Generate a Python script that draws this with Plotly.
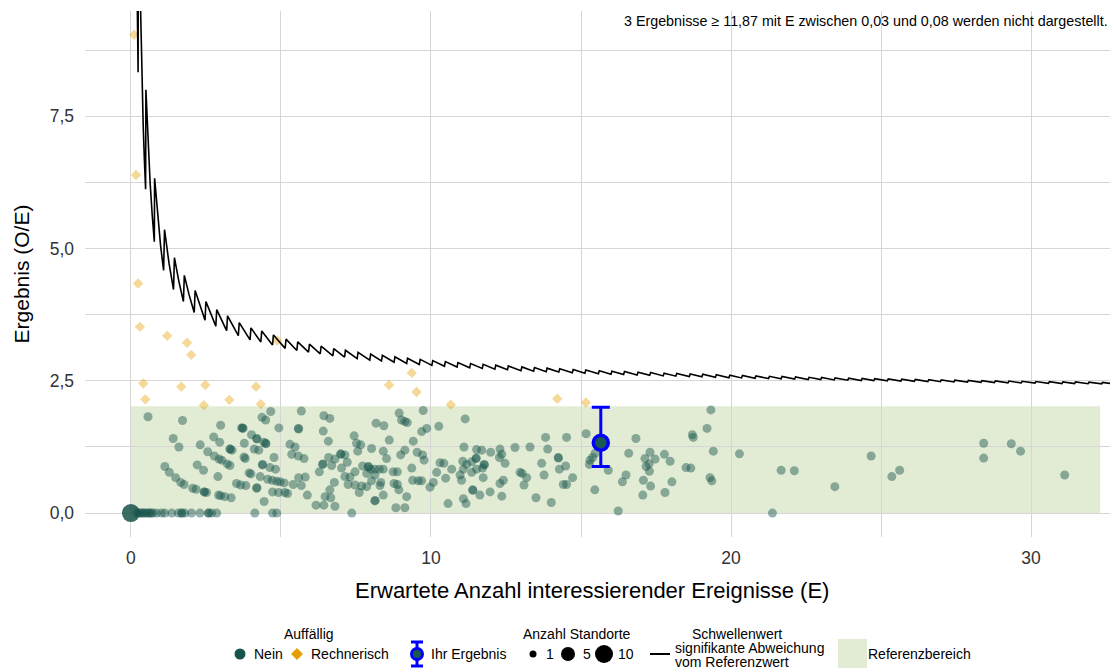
import plotly.graph_objects as go

# Auffällig: Nein (1 Standort)
e_nein = [
    0.57, 1.72, 1.41, 1.60, 1.13, 1.28, 1.49, 1.66, 1.77, 2.06, 2.17, 2.44, 2.52, 2.92, 2.99, 3.13, 3.34,
    2.21, 2.42, 2.31, 2.56, 2.78, 2.94, 3.03, 3.21, 3.30, 2.76, 2.96, 2.99, 3.30, 3.37, 3.69, 3.74, 3.78,
    3.77, 3.81, 4.02, 4.11, 4.19, 4.26, 4.43, 4.49, 4.38, 4.63, 4.82, 4.77, 3.94, 4.00, 4.31, 4.56, 4.71,
    4.86, 4.97, 5.11, 4.19, 4.44, 4.72, 4.92, 5.13, 5.22, 3.52, 3.66, 3.83, 2.90, 5.41, 5.68, 5.59, 5.81,
    5.88, 6.17, 6.28, 5.58, 5.30, 5.47, 5.36, 5.58, 5.77, 4.93, 4.66, 4.37, 4.49, 5.68,
    3.31, 4.20, 4.50, 4.39, 5.59, 4.20, 2.45, 3.72,
    6.43, 6.63, 6.41, 6.58, 6.59, 6.80, 6.39, 6.40, 6.69, 6.99, 7.00, 7.13, 7.02, 7.21, 7.13, 7.30, 7.47,
    7.44, 7.52, 7.66, 7.56, 8.02, 8.17, 8.43, 8.61, 8.41, 8.52, 7.72, 7.91, 7.92, 7.99, 8.13, 8.28, 8.41,
    7.86, 8.13, 8.02, 8.33, 7.24, 7.47, 7.69, 7.86, 6.78, 6.63, 6.47, 6.66, 6.43, 6.80, 7.61, 7.36, 8.13,
    8.14, 8.30, 8.41, 8.74, 8.88, 8.77, 8.88, 8.93, 9.19, 8.83, 9.13, 8.94, 9.02, 9.13, 9.21, 8.99, 9.13,
    9.41, 9.36, 9.39, 9.58, 9.69, 9.54, 9.72, 9.77, 9.69, 9.86, 9.74, 10.26, 11.14, 10.08, 9.97, 10.19,
    10.30, 10.43, 10.49, 10.69, 10.57, 10.97, 11.02, 11.06, 11.08, 11.19, 11.10, 11.36, 11.50, 11.51,
    11.69, 11.52, 11.77, 11.78, 11.72, 11.52, 11.36, 11.74, 11.39, 11.40, 11.63, 11.08, 11.17, 11.97,
    12.36, 12.30, 12.41, 11.99, 12.30, 12.36, 12.28, 12.47, 12.80, 12.97, 13.04, 13.19, 13.10, 13.30,
    13.50, 13.69, 13.77, 13.82, 13.89, 14.01, 14.24, 14.25, 14.28, 14.49, 14.41, 14.52, 14.52, 14.72,
    15.17, 15.30, 15.39, 15.28, 15.47, 15.46, 15.91, 16.24, 16.50, 16.38, 16.59, 16.83, 17.13, 17.17,
    17.27, 17.28, 17.30, 17.47, 17.08, 17.32, 17.06, 17.78, 17.97, 18.03, 17.80, 18.50, 18.66, 18.71,
    18.74, 19.20, 19.33, 19.41, 19.30, 19.36,
    20.28, 21.67, 22.11, 23.46, 21.38, 24.67, 25.36, 25.62, 28.42, 28.42, 29.34, 29.65, 31.12,
    0.19, 0.25, 0.30, 0.35, 0.41, 0.45, 0.52, 0.58, 0.63, 0.68, 0.74, 0.86, 1.02, 1.13, 1.36, 1.58,
    1.69, 1.70, 1.80, 2.02, 2.30, 2.58, 2.59, 2.69, 2.86, 4.13, 4.72, 4.86,
]
oe_nein = [
    1.82, 1.75, 1.41, 1.25, 0.88, 0.77, 0.67, 0.58, 0.54, 0.47, 0.45, 0.40, 0.39, 0.34, 0.33, 0.31, 0.29,
    0.91, 0.81, 1.29, 1.16, 1.08, 1.02, 1.00, 0.93, 0.90, 1.44, 1.34, 1.66, 1.21, 1.19, 1.61, 1.60, 1.32,
    1.06, 1.03, 1.48, 1.21, 1.41, 1.19, 1.34, 1.32, 0.91, 0.86, 0.83, 1.05, 0.76, 0.74, 0.69, 0.64, 0.62,
    0.60, 0.59, 0.57, 0.47, 0.22, 0.40, 0.39, 0.39, 0.37, 0.56, 0.53, 0.52, 0.69, 0.54, 0.52, 0.67, 0.68,
    0.34, 0.15, 0.78, 1.60, 1.30, 1.25, 1.11, 1.08, 1.03, 1.61, 1.92, 1.81, 1.76, 1.93,
    1.21, 1.40, 1.31, 0.92, 1.59, 0.48, 0.40, 1.61,
    1.84, 1.79, 1.55, 1.36, 1.05, 1.02, 0.92, 0.93, 0.90, 1.12, 1.11, 1.10, 0.85, 0.96, 0.69, 0.68, 0.78,
    1.46, 1.32, 1.29, 1.17, 1.22, 1.70, 1.65, 1.38, 1.17, 1.03, 0.89, 0.88, 0.87, 0.83, 0.83, 0.83, 0.83,
    0.75, 0.72, 0.61, 0.58, 0.54, 0.53, 0.51, 0.50, 0.58, 0.44, 0.31, 0.29, 0.15, 0.13, 0.39, 0.00, 0.23,
    0.24, 0.52, 0.34, 0.78, 0.78, 0.56, 0.54, 0.44, 0.31, 0.10, 0.10, 1.89, 1.76, 1.73, 1.71, 1.10, 1.19,
    1.36, 0.85, 0.62, 0.61, 0.61, 1.15, 1.10, 1.00, 1.54, 1.60, 1.94, 1.64, 1.78, 0.58, 0.49, 0.77,
    0.95, 0.94, 0.66, 0.83, 0.18, 0.72, 0.62, 0.98, 0.83, 0.92, 1.25, 0.97, 1.03, 1.04,
    1.19, 1.20, 0.92, 0.91, 0.85, 0.83, 0.77, 0.67, 0.44, 0.43, 0.34, 0.27, 0.18, 0.40,
    0.32, 0.56, 0.62, 1.15, 1.21, 1.11, 1.05, 0.94, 1.24, 0.77, 0.75, 0.67, 0.53, 1.25,
    0.29, 0.94, 0.72, 1.43, 1.21, 0.20, 1.05, 1.04, 0.83, 0.89, 0.54, 0.54, 1.43, 0.67,
    1.50, 1.00, 1.05, 0.92, 1.13, 0.44, 0.81, 0.04, 0.72, 0.59, 1.13, 1.41, 1.03, 0.88,
    0.93, 0.79, 1.15, 1.02, 0.62, 0.51, 0.34, 1.11, 0.98, 0.59, 0.39, 0.86, 0.85, 1.48,
    1.43, 1.60, 1.95, 1.17, 0.67, 0.61,
    1.12, 0.81, 0.80, 0.50, 0.00, 1.08, 0.69, 0.81, 1.32, 1.04, 1.31, 1.17, 0.72,
    0.00, 0.00, 0.00, 0.00, 0.00, 0.00, 0.00, 0.00, 0.00, 0.00, 0.00, 0.00, 0.00, 0.00, 0.00, 0.00,
    0.00, 0.00, 0.00, 0.00, 0.00, 0.00, 0.00, 0.00, 0.00, 0.00, 0.00, 0.00,
]

# Auffällig: Nein, mehrere Standorte
e_nein_gross = [0.0]
oe_nein_gross = [0.0]
standorte_gross = [10]

# Auffällig: Rechnerisch
e_rech = [0.11, 0.17, 0.24, 0.30, 0.41, 0.48, 1.21, 1.68, 1.87, 2.01, 2.43, 2.48, 3.28, 4.17, 4.33,
          4.88, 8.60, 9.36, 9.52, 10.66, 14.21, 15.16]
oe_rech = [9.04, 6.39, 4.34, 3.52, 2.45, 2.15, 3.35, 2.39, 3.22, 2.99, 2.04, 2.42, 2.14, 2.39, 2.06,
           3.26, 2.42, 2.65, 2.29, 2.05, 2.16, 2.09]

# Ihr Ergebnis
ihr_e = [15.66]
ihr_oe = [1.33]
ihr_unten = [0.88]
ihr_oben = [2.00]

# Referenzbereich
ref_e = [0.0, 32.3]
ref_oe = [0.0, 2.02]

# Schwellenwert signifikante Abweichung (Eckpunkte der Saegezahnlinie)
schwelle_e = [
    0.18, 0.21, 0.24, 0.25, 0.29, 0.33, 0.37, 0.41, 0.45, 0.49, 0.50, 0.57, 0.64, 0.71, 0.78,
    0.79, 0.89, 0.99, 1.09, 1.12, 1.27, 1.42, 1.45, 1.60, 1.75, 1.78, 1.94, 2.11, 2.14, 2.47,
    2.50, 2.83, 2.86, 3.19, 3.22, 3.58, 3.61, 3.97, 4.00, 4.33, 4.36, 4.72, 4.75, 5.14, 5.17, 5.53,
    5.56, 5.92, 5.95, 6.31, 6.34, 6.73, 6.76, 7.12, 7.15, 7.54, 7.57, 7.96, 7.99, 8.35, 8.38, 8.77,
    8.80, 9.19, 9.22, 9.61, 9.64, 10.03, 10.06, 10.45, 10.48, 10.87, 10.90, 11.29, 11.32, 11.71,
    11.74, 12.13, 12.16, 12.55, 12.58, 13.00, 13.03, 13.42, 13.45, 13.84, 13.87, 14.26, 14.29, 14.71,
    14.74, 15.13, 15.16, 15.58, 15.61, 16.00, 16.03, 16.42, 16.45, 16.87, 16.90, 17.29, 17.32, 17.74,
    17.77, 18.16, 18.19, 18.61, 18.64, 19.03, 19.06, 19.48, 19.51, 19.93, 19.96, 20.35, 20.38, 20.80,
    20.83, 21.25, 21.28, 21.67, 21.70, 22.12, 22.15, 22.57, 22.60, 22.99, 23.02, 23.44, 23.47, 23.89,
    23.92, 24.34, 24.37, 24.76, 24.79, 25.21, 25.24, 25.66, 25.69, 26.11, 26.14, 26.56, 26.59, 26.98,
    27.01, 27.43, 27.46, 27.88, 27.91, 28.33, 28.36, 28.78, 28.81, 29.23, 29.26, 29.67, 29.70, 30.13,
    30.16, 30.58, 30.61, 31.03, 31.06, 31.45, 31.48, 31.90, 31.93, 32.35, 32.38, 32.70,
]
schwelle_oe = [
    11.111, 9.524, 8.333, 12.0, 10.345, 9.091, 8.108, 7.317, 6.667, 6.122, 8.0, 7.018, 6.25, 5.634, 5.128,
    6.329, 5.618, 5.051, 4.587, 5.357, 4.724, 4.225, 4.828, 4.375, 4.0, 4.494, 4.124, 3.791, 4.206, 3.644,
    4.0, 3.534, 3.846, 3.448, 3.727, 3.352, 3.601, 3.275, 3.5, 3.233, 3.44, 3.178, 3.368, 3.113, 3.288, 3.074,
    3.237, 3.041, 3.193, 3.011, 3.155, 2.972, 3.107, 2.949, 3.077, 2.918, 3.038, 2.889, 3.004, 2.874, 2.983,
    2.851, 2.955, 2.829, 2.928, 2.81, 2.905, 2.792, 2.883, 2.775, 2.863, 2.76, 2.844, 2.746, 2.827, 2.733,
    2.811, 2.721, 2.796, 2.709, 2.782, 2.692, 2.763, 2.683, 2.751, 2.673, 2.74, 2.665, 2.729, 2.651,
    2.714, 2.644, 2.704, 2.632, 2.691, 2.625, 2.682, 2.619, 2.675, 2.608, 2.663, 2.603, 2.656, 2.593,
    2.645, 2.588, 2.639, 2.579, 2.629, 2.575, 2.623, 2.567, 2.614, 2.559, 2.605, 2.555, 2.601, 2.548,
    2.592, 2.541, 2.585, 2.538, 2.581, 2.532, 2.573, 2.525, 2.566, 2.523, 2.563, 2.517, 2.556, 2.512,
    2.55, 2.506, 2.544, 2.504, 2.541, 2.499, 2.536, 2.494, 2.53, 2.489, 2.525, 2.485, 2.52, 2.483,
    2.518, 2.479, 2.513, 2.475, 2.508, 2.471, 2.504, 2.467, 2.499, 2.463, 2.495, 2.46, 2.491, 2.456,
    2.487, 2.453, 2.483, 2.449, 2.479, 2.448, 2.478, 2.445, 2.474, 2.442, 2.471, 2.446,
]

hinweis = "3 Ergebnisse ≥ 11,87 mit E zwischen 0,03 und 0,08 werden nicht dargestellt."

fig = go.Figure()
fig.add_shape(type="rect", xref="x", yref="y", x0=ref_e[0], x1=ref_e[1], y0=ref_oe[0], y1=ref_oe[1],
              fillcolor="#e2ecd4", line_width=0, layer="below")

teal = "#17544b"
fig.add_trace(go.Scatter(x=e_nein, y=oe_nein, mode="markers", showlegend=False, hoverinfo="skip",
                         marker=dict(color=teal, size=9, opacity=0.45, line_width=0)))
fig.add_trace(go.Scatter(x=e_nein_gross, y=oe_nein_gross, mode="markers", showlegend=False,
                         marker=dict(color=teal, size=[18 for n in standorte_gross], opacity=0.85,
                                     line_width=0)))
fig.add_trace(go.Scatter(x=e_rech, y=oe_rech, mode="markers", showlegend=False,
                         marker=dict(color="#e69f00", symbol="diamond", size=8, opacity=0.4, line_width=0)))
fig.add_trace(go.Scatter(x=schwelle_e, y=schwelle_oe, mode="lines", showlegend=False,
                         line=dict(color="black", width=1.6)))
fig.add_trace(go.Scatter(
    x=ihr_e, y=ihr_oe, mode="markers", showlegend=False,
    error_y=dict(type="data", symmetric=False,
                 array=[o - v for o, v in zip(ihr_oben, ihr_oe)],
                 arrayminus=[v - u for u, v in zip(ihr_unten, ihr_oe)],
                 color="#0000ff", thickness=3, width=9),
    marker=dict(color="#1b5a50", size=15, line=dict(color="#0000ff", width=3.5))))

fig.add_annotation(text=hinweis, xref="paper", yref="paper", x=1, y=1, xanchor="right", yanchor="top",
                   showarrow=False, font=dict(size=14.3, color="black"))


# legend and x title (placed by hand, positions in screen pixels)
def px(x):
    return (x - 85) / 1025


def py(y):
    return (537 - y) / 526


def label(text, x, y, anchor="left", size=14):
    fig.add_annotation(text=text, xref="paper", yref="paper", x=px(x), y=py(y), xanchor=anchor,
                       yanchor="middle", showarrow=False, font=dict(size=size, color="black"))


def dot(x, y, d, color, line=None, lw=0):
    fig.add_shape(type="circle", xref="paper", yref="paper", xsizemode="pixel", ysizemode="pixel",
                  xanchor=px(x), yanchor=py(y), x0=-d / 2, x1=d / 2, y0=-d / 2, y1=d / 2,
                  fillcolor=color, line=dict(color=line or color, width=lw))


def seg(x0, y0, x1, y1, color, w):
    fig.add_shape(type="line", xref="paper", yref="paper", x0=px(x0), y0=py(y0), x1=px(x1), y1=py(y1),
                  line=dict(color=color, width=w))


label("Erwartete Anzahl interessierender Ereignisse (E)", 592, 590, "center", 22)

row = 654
label("Auffällig", 309, 634, "center")
dot(240, row, 11, "#17544b")
label("Nein", 252, row)
fig.add_shape(type="path", xref="paper", yref="paper", xsizemode="pixel", ysizemode="pixel",
              xanchor=px(297), yanchor=py(row), path="M 0 6 L 6 0 L 0 -6 L -6 0 Z",
              fillcolor="#e69f00", line_width=0)
label("Rechnerisch", 309, row)
seg(417, 642, 417, 666, "#0000ff", 3)
seg(411, 642, 423, 642, "#0000ff", 3)
seg(411, 666, 423, 666, "#0000ff", 3)
dot(417, row, 11, "#1b5a50", "#0000ff", 3)
label("Ihr Ergebnis", 429, row)
label("Anzahl Standorte", 577, 634, "center")
dot(533, row, 7, "black")
label("1", 544, row)
dot(568, row, 14, "black")
label("5", 581, row)
dot(604, row, 18, "black")
label("10", 616, row)
seg(650, row, 670, row, "black", 2)
label("Schwellenwert", 737, 634, "center")
label("signifikante Abweichung", 673, 648)
label("vom Referenzwert", 673, 662)
fig.add_shape(type="rect", xref="paper", yref="paper", x0=px(838), x1=px(867), y0=py(639), y1=py(668),
              fillcolor="#e2ecd4", line_width=0)
label("Referenzbereich", 866, row)

grid = "#d6d6d6"
fig.update_layout(
    width=1115, height=672, separators=",.",
    margin=dict(l=85, r=5, t=11, b=135),
    plot_bgcolor="white", paper_bgcolor="white",
    font=dict(family="Liberation Sans, Arial, sans-serif", color="black"),
    xaxis=dict(range=[-1.53, 32.63], tick0=0, dtick=10, showgrid=True, gridcolor=grid, gridwidth=1.3,
               minor=dict(tick0=0, dtick=5, showgrid=True, gridcolor=grid, gridwidth=1),
               zeroline=False, showline=False, ticks="", ticklabelstandoff=8, automargin=False,
               tickfont=dict(size=17.5, color="#333333")),
    yaxis=dict(range=[-0.452, 9.49], tick0=0, dtick=2.5, tickformat=".1f", showgrid=True, gridcolor=grid,
               gridwidth=1.3, minor=dict(tick0=0, dtick=1.25, showgrid=True, gridcolor=grid, gridwidth=1),
               zeroline=False, showline=False, ticks="", ticklabelstandoff=10, automargin=False,
               tickfont=dict(size=17.5, color="#333333"),
               title=dict(text="Ergebnis (O/E)", font=dict(size=21), standoff=14)),
)

fig.write_html("out.html", config={"displayModeBar": False},
               post_script="document.body.style.margin='0px';")
